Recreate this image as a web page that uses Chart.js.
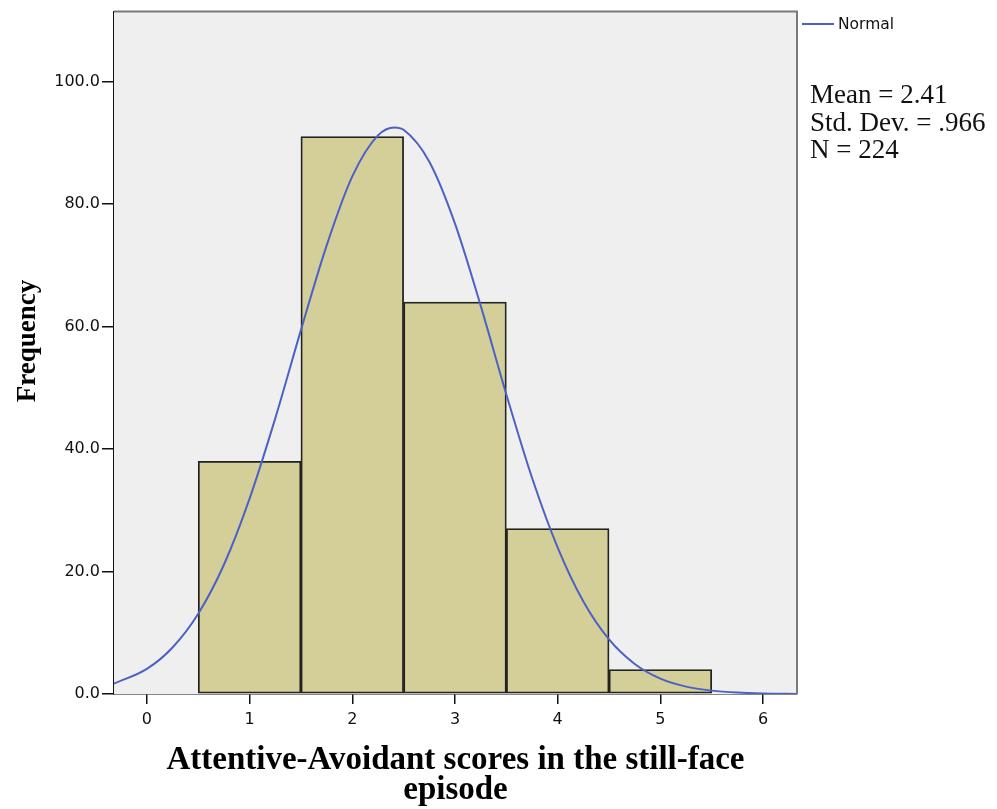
<!DOCTYPE html>
<html>
<head>
<meta charset="utf-8">
<script src="https://cdn.jsdelivr.net/npm/chart.js@4/dist/chart.umd.min.js"></script>
<style>
  html, body { margin: 0; padding: 0; background: #fff; }
  #wrap { width: 997px; height: 809px; }
</style>
</head>
<body>
<div id="wrap"><canvas id="hist" width="997" height="809"></canvas></div>
<script>
// bins (centre of each bar) and counts
const binCenters = [1, 2, 3, 4, 5];
const binCounts = [38, 91, 64, 27, 4];

// normal curve
const curveX = [-0.32, 0, 0.25, 0.5, 0.75, 1, 1.25, 1.5, 1.75, 2, 2.25, 2.41, 2.5, 2.75, 3, 3.25, 3.5, 3.75, 4, 4.25, 4.5, 4.75, 5, 5.25, 5.5, 5.75, 6, 6.33];
const curveY = [1.7, 4.1, 7.6, 13.1, 21.1, 31.9, 45.0, 59.4, 73.2, 84.5, 91.2, 92.5, 92.1, 86.9, 76.8, 63.4, 48.9, 35.3, 23.9, 15.1, 8.9, 4.9, 2.5, 1.2, 0.55, 0.23, 0.09, 0.02];

const xTicks = [0, 1, 2, 3, 4, 5, 6];
const yTicks = [0, 20, 40, 60, 80, 100];

const statsLines = ['Mean = 2.41', 'Std. Dev. = .966', 'N = 224'];
const xTitle = ['Attentive-Avoidant scores in the still-face', 'episode'];
const yTitle = 'Frequency';

const LINE_BLUE = '#4b62c4';
const BAR_FILL = '#d4cf98';
const TICK_FONT = { family: '"DejaVu Sans", sans-serif', size: 16 };

/* ── extras drawn around the plot: panel, frame, titles, legend, stats ── */
const decor = {
  id: 'decor',
  beforeDatasetsDraw(chart) {
    const { ctx, chartArea: a } = chart;
    ctx.save();
    ctx.fillStyle = '#efefef';
    ctx.fillRect(a.left, a.top, a.right - a.left, a.bottom - a.top);
    ctx.restore();
  },
  afterDraw(chart) {
    const { ctx, chartArea: a } = chart;
    ctx.save();
    // grey frame on top and right
    ctx.strokeStyle = '#7a7a7a';
    ctx.lineWidth = 2;
    ctx.beginPath();
    ctx.moveTo(a.left, a.top);
    ctx.lineTo(a.right, a.top);
    ctx.lineTo(a.right, a.bottom);
    ctx.stroke();

    // axis titles
    ctx.fillStyle = '#000';
    ctx.textAlign = 'center';
    ctx.textBaseline = 'alphabetic';
    ctx.font = 'bold 33px "Liberation Serif", "Times New Roman", serif';
    const cx = (a.left + a.right) / 2;
    ctx.fillText(xTitle[0], cx, 769);
    ctx.fillText(xTitle[1], cx, 799);

    ctx.translate(35, 341);
    ctx.rotate(-Math.PI / 2);
    ctx.font = 'bold 27px "Liberation Serif", "Times New Roman", serif';
    ctx.fillText(yTitle, 0, 0);
    ctx.setTransform(1, 0, 0, 1, 0, 0);

    // legend
    ctx.strokeStyle = LINE_BLUE;
    ctx.lineWidth = 2;
    ctx.beginPath();
    ctx.moveTo(802, 24);
    ctx.lineTo(834, 24);
    ctx.stroke();
    ctx.textAlign = 'left';
    ctx.textBaseline = 'middle';
    ctx.fillStyle = '#111';
    ctx.font = '15.5px "DejaVu Sans", sans-serif';
    ctx.fillText('Normal', 838, 25);

    // summary stats
    ctx.font = '27px "Liberation Serif", "Times New Roman", serif';
    ctx.textBaseline = 'alphabetic';
    statsLines.forEach((s, i) => ctx.fillText(s, 810, 103 + i * 27.5));
    ctx.restore();
  }
};

new Chart(document.getElementById('hist'), {
  type: 'bar',
  data: {
    datasets: [
      {
        type: 'line',
        label: 'Normal',
        data: curveX.map((x, i) => ({ x, y: curveY[i] })),
        borderColor: LINE_BLUE,
        borderWidth: 2,
        pointRadius: 0,
        cubicInterpolationMode: 'monotone',
        fill: false,
        order: 0
      },
      {
        type: 'bar',
        label: 'Frequency',
        data: binCenters.map((x, i) => ({ x, y: binCounts[i] })),
        backgroundColor: BAR_FILL,
        borderColor: '#222',
        borderWidth: 1.8,
        borderSkipped: false,
        barPercentage: 1,
        categoryPercentage: 1,
        order: 1
      }
    ]
  },
  options: {
    responsive: false,
    animation: false,
    layout: { padding: { left: 0, top: 11, right: 200, bottom: 0 } },
    plugins: { legend: { display: false }, tooltip: { enabled: false } },
    scales: {
      x: {
        type: 'linear',
        min: -0.32,
        max: 6.33,
        offset: false,
        afterBuildTicks: s => { s.ticks = xTicks.map(v => ({ value: v })); },
        afterFit: s => { s.height = 115; },
        ticks: { color: '#111', font: TICK_FONT, padding: 6, maxRotation: 0 },
        grid: { offset: false, drawOnChartArea: false, drawTicks: true, tickLength: 10, color: '#111', lineWidth: 1.5 },
        border: { color: '#111', width: 1.5 }
      },
      y: {
        min: 0,
        max: 111.4,
        afterBuildTicks: s => { s.ticks = yTicks.map(v => ({ value: v })); },
        afterFit: s => { s.width = 114; },
        ticks: { color: '#111', font: TICK_FONT, padding: 2, callback: v => v.toFixed(1) },
        grid: { drawOnChartArea: false, drawTicks: true, tickLength: 12, color: '#111', lineWidth: 1.5 },
        border: { color: '#111', width: 1.5 }
      }
    }
  },
  plugins: [decor]
});
</script>
</body>
</html>
